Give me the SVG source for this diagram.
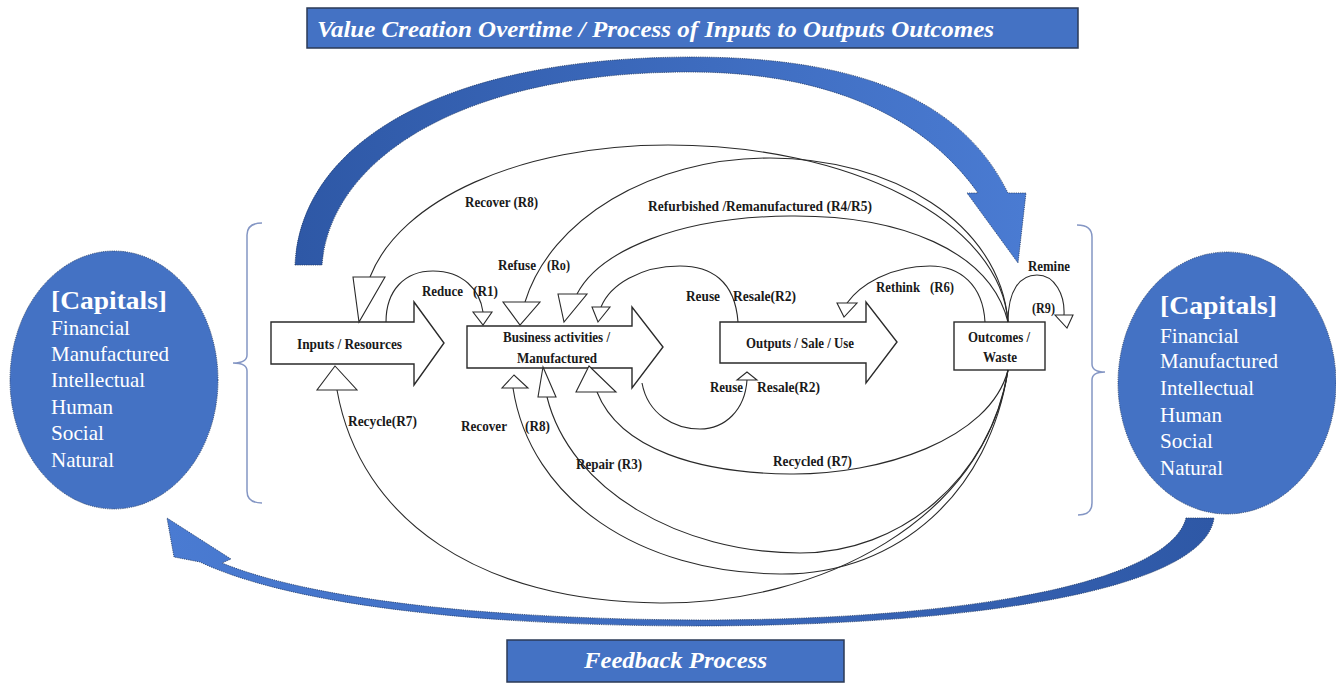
<svg xmlns="http://www.w3.org/2000/svg" width="1336" height="683" viewBox="0 0 1336 683">
<style>
.blue{fill:#4472C4;stroke:#1F3864;stroke-width:0.8;stroke-dasharray:1.2 1}
.cap{font-family:"Liberation Serif","DejaVu Serif","Noto Serif","Times New Roman",serif;fill:#fff;font-size:21px}
.caph{font-family:"Liberation Serif","DejaVu Serif","Noto Serif","Times New Roman",serif;fill:#fff;font-size:26px;font-weight:bold}
.node{fill:#fff;stroke:#2a2a2a;stroke-width:1.4}
.lbl{font-family:"Liberation Serif","DejaVu Serif","Noto Serif","Times New Roman",serif;font-weight:bold;font-size:14px;fill:#1a1a1a}
.con{fill:none;stroke:#2a2a2a;stroke-width:1.1}
.tri{fill:#fff;stroke:#2a2a2a;stroke-width:1.1}
.brk{fill:none;stroke:#8496C4;stroke-width:1.5}
.ttl{font-family:"Liberation Serif","DejaVu Serif","Noto Serif","Times New Roman",serif;font-weight:bold;font-style:italic;font-size:23px;fill:#fff}
.tbox{fill:#4472C4;stroke:#2b3a55;stroke-width:1.5}
</style>
<defs>
<linearGradient id="gTop" x1="0" y1="0" x2="1" y2="0">
<stop offset="0" stop-color="#2E58A6"/><stop offset="1" stop-color="#4A7BD2"/>
</linearGradient>
<linearGradient id="gBot" x1="0" y1="0" x2="1" y2="0">
<stop offset="0" stop-color="#4A7BD2"/><stop offset="1" stop-color="#2E58A6"/>
</linearGradient>
</defs>
<rect width="1336" height="683" fill="#fff"/>

<g id="title">
<rect class="tbox" x="307" y="8" width="771" height="40"/>
<text class="ttl" x="317" y="37" textLength="677" lengthAdjust="spacingAndGlyphs">Value Creation  Overtime / Process of Inputs to Outputs Outcomes</text>
</g>
<g id="feedback-title">
<rect class="tbox" x="507" y="640" width="337" height="42"/>
<text class="ttl" x="584" y="668" textLength="183" lengthAdjust="spacingAndGlyphs">Feedback Process</text>
</g>

<g id="top-arrow">
<path class="blue" style="fill:url(#gTop)" d="M295,265 C300,150 430,58 690,57 C850,57 960,95 1008,193 L1026,193 L1018,263 L967,193 L978,193 C925,118 830,72 690,72 C460,72 330,160 322,265 Z"/>
</g>
<g id="bottom-arrow">
<path class="blue" style="fill:url(#gBot)" d="M1186,518 L1214,518 C1205,585 1000,625 700,626 C450,626 280,600 200,562 L174,557 L167,518 L231,559 L222,563 C300,595 460,619 700,620 C980,620 1170,580 1186,518 Z"/>
</g>

<g id="capitals-left">
<ellipse class="blue" cx="114" cy="380" rx="104" ry="129"/>
<text class="caph" x="51" y="309" textLength="116" lengthAdjust="spacingAndGlyphs">[Capitals]</text>
<text class="cap" x="51" y="335" textLength="79" lengthAdjust="spacingAndGlyphs">Financial</text>
<text class="cap" x="51" y="361" textLength="118" lengthAdjust="spacingAndGlyphs">Manufactured</text>
<text class="cap" x="51" y="387" textLength="94" lengthAdjust="spacingAndGlyphs">Intellectual</text>
<text class="cap" x="51" y="414" textLength="62" lengthAdjust="spacingAndGlyphs">Human</text>
<text class="cap" x="51" y="440" textLength="53" lengthAdjust="spacingAndGlyphs">Social</text>
<text class="cap" x="51" y="467" textLength="63" lengthAdjust="spacingAndGlyphs">Natural</text>
</g>
<g id="capitals-right">
<ellipse class="blue" cx="1227" cy="383" rx="109" ry="131"/>
<text class="caph" x="1160" y="314" textLength="117" lengthAdjust="spacingAndGlyphs">[Capitals]</text>
<text class="cap" x="1160" y="343" textLength="79" lengthAdjust="spacingAndGlyphs">Financial</text>
<text class="cap" x="1160" y="368" textLength="118" lengthAdjust="spacingAndGlyphs">Manufactured</text>
<text class="cap" x="1160" y="395" textLength="94" lengthAdjust="spacingAndGlyphs">Intellectual</text>
<text class="cap" x="1160" y="422" textLength="62" lengthAdjust="spacingAndGlyphs">Human</text>
<text class="cap" x="1160" y="448" textLength="53" lengthAdjust="spacingAndGlyphs">Social</text>
<text class="cap" x="1160" y="475" textLength="63" lengthAdjust="spacingAndGlyphs">Natural</text>
</g>

<g id="brackets">
<path class="brk" d="M262,223 Q247,223 247,235 L247,355 Q247,363 233,363 Q247,363 247,371 L247,491 Q247,503 262,503"/>
<path class="brk" d="M1077,225 Q1092,225 1092,237 L1092,364 Q1092,372 1105,372 Q1092,372 1092,380 L1092,503 Q1092,515 1078,515"/>
</g>

<g id="inputs">
<polygon class="node" points="271,322 414,322 414,302 444,343 414,385 414,364 271,364"/>
<text class="lbl" x="297" y="349" textLength="105" lengthAdjust="spacingAndGlyphs">Inputs / Resources</text>
</g>
<g id="business">
<polygon class="node" points="467,326 632,326 632,307 663,347 632,388 632,368 467,368"/>
<text class="lbl" x="503" y="342" textLength="107" lengthAdjust="spacingAndGlyphs">Business activities /</text>
<text class="lbl" x="517" y="363" textLength="80" lengthAdjust="spacingAndGlyphs">Manufactured</text>
</g>
<g id="outputs">
<polygon class="node" points="720,322 866,322 866,302 897,342 866,383 866,363 720,363"/>
<text class="lbl" x="746" y="348" textLength="108" lengthAdjust="spacingAndGlyphs">Outputs / Sale / Use</text>
</g>
<g id="outcomes">
<rect class="node" x="954" y="322" width="91" height="48"/>
<text class="lbl" x="968" y="342" textLength="62" lengthAdjust="spacingAndGlyphs">Outcomes /</text>
<text class="lbl" x="983" y="362" textLength="34" lengthAdjust="spacingAndGlyphs">Waste</text>
</g>

<g id="connectors">
<path class="con" d="M1008,322 C1000,220 850,145 668,145 C520,145 400,200 370,277"/>
<path class="con" d="M1008,322 C1000,222 890,158 770,158 C650,158 550,220 525,302"/>
<path class="con" d="M1008,322 C990,250 900,215 790,216 C680,217 600,250 577,294"/>
<path class="con" d="M738,322 C735,280 710,266 680,266 C640,266 610,285 601,307"/>
<path class="con" d="M985,322 C983,285 960,266 930,266 C890,266 860,285 847,303"/>
<path class="con" d="M1008,322 C1008,290 1020,275 1037,275 C1055,275 1065,295 1064,315"/>
<path class="con" d="M386,322 C386,290 405,271 433,271 C463,271 480,290 483,312"/>
<path class="con" d="M642,383 C648,415 675,429 700,429 C725,429 745,410 747,380"/>
<path class="con" d="M1008,370 C990,440 880,475 790,474 C700,473 620,450 597,392"/>
<path class="con" d="M1008,370 C990,480 900,553 800,553 C680,553 570,490 547,397"/>
<path class="con" d="M1008,370 C990,490 900,575 780,574 C640,573 530,500 513,388"/>
<path class="con" d="M1008,370 C985,520 820,604 660,603 C480,602 360,520 337,390"/>
<polygon class="tri" points="353,277 385,277 359,322"/>
<polygon class="tri" points="503,302 540,302 520,325"/>
<polygon class="tri" points="558,294 587,294 564,322"/>
<polygon class="tri" points="592,307 610,307 598,322"/>
<polygon class="tri" points="473,312 492,312 483,325"/>
<polygon class="tri" points="837,303 857,303 844,317"/>
<polygon class="tri" points="1055,315 1073,315 1067,328"/>
<polygon class="tri" points="335,366 317,390 357,390"/>
<polygon class="tri" points="514,375 502,388 528,388"/>
<polygon class="tri" points="543,367 538,397 556,397"/>
<polygon class="tri" points="589,366 576,392 616,392"/>
<polygon class="tri" points="747,372 737,380 757,380"/>
</g>

<g id="labels">
<text class="lbl" x="465" y="207" textLength="73" lengthAdjust="spacingAndGlyphs">Recover (R8)</text>
<text class="lbl" x="648" y="211" textLength="224" lengthAdjust="spacingAndGlyphs">Refurbished /Remanufactured  (R4/R5)</text>
<text class="lbl" x="498" y="270" textLength="38" lengthAdjust="spacingAndGlyphs">Refuse</text>
<text class="lbl" x="547" y="270" textLength="23" lengthAdjust="spacingAndGlyphs">(Ro)</text>
<text class="lbl" x="422" y="296" textLength="41" lengthAdjust="spacingAndGlyphs">Reduce</text>
<text class="lbl" x="473" y="296" textLength="25" lengthAdjust="spacingAndGlyphs">(R1)</text>
<text class="lbl" x="686" y="301" textLength="34" lengthAdjust="spacingAndGlyphs">Reuse</text>
<text class="lbl" x="733" y="301" textLength="63" lengthAdjust="spacingAndGlyphs">Resale(R2)</text>
<text class="lbl" x="876" y="292" textLength="44" lengthAdjust="spacingAndGlyphs">Rethink</text>
<text class="lbl" x="930" y="292" textLength="24" lengthAdjust="spacingAndGlyphs">(R6)</text>
<text class="lbl" x="1028" y="271" textLength="42" lengthAdjust="spacingAndGlyphs">Remine</text>
<text class="lbl" x="1032" y="313" textLength="23" lengthAdjust="spacingAndGlyphs">(R9)</text>
<text class="lbl" x="710" y="392" textLength="33" lengthAdjust="spacingAndGlyphs">Reuse</text>
<text class="lbl" x="757" y="392" textLength="63" lengthAdjust="spacingAndGlyphs">Resale(R2)</text>
<text class="lbl" x="773" y="466" textLength="79" lengthAdjust="spacingAndGlyphs">Recycled (R7)</text>
<text class="lbl" x="576" y="469" textLength="66" lengthAdjust="spacingAndGlyphs">Repair (R3)</text>
<text class="lbl" x="461" y="431" textLength="46" lengthAdjust="spacingAndGlyphs">Recover</text>
<text class="lbl" x="525" y="431" textLength="25" lengthAdjust="spacingAndGlyphs">(R8)</text>
<text class="lbl" x="348" y="426" textLength="69" lengthAdjust="spacingAndGlyphs">Recycle(R7)</text>
</g>
</svg>
